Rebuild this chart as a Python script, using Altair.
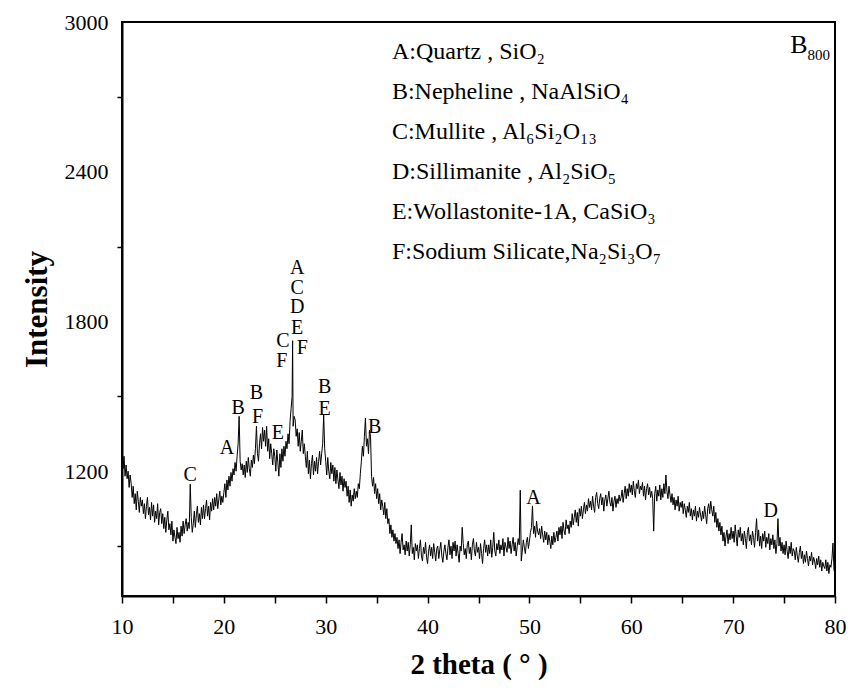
import altair as alt
import numpy as np
import pandas as pd

# ---- XRD scan: 2-theta grid at 0.1 deg, counts listed one row per degree ----
theta_start, theta_stop, theta_step = 10.0, 80.0, 0.1
counts_by_degree = [
    [1245, 1210, 1260, 1180, 1225, 1170, 1200, 1135, 1185, 1150],  # 10
    [1095, 1140, 1070, 1110, 1045, 1120, 1080, 1035, 1095, 1060],  # 11
    [1085, 1030, 1070, 1010, 1060, 1095, 1025, 1055, 1005, 1075],  # 12
    [1020, 1065, 995, 1040, 1010, 1070, 985, 1035, 1050, 990],     # 13
    [1030, 970, 1015, 955, 1005, 1040, 965, 990, 945, 1000],       # 14
    [920, 965, 935, 910, 975, 930, 955, 915, 980, 940],            # 15
    [1000, 950, 985, 1010, 960, 995, 970, 1148, 1015, 955],        # 16
    [990, 1040, 975, 1025, 1060, 995, 1030, 985, 1055, 1010],      # 17
    [1065, 1010, 1050, 1085, 1020, 1060, 1005, 1075, 1040, 1090],  # 18
    [1045, 1095, 1060, 1110, 1050, 1085, 1120, 1065, 1100, 1075],  # 19
    [1115, 1150, 1095, 1165, 1125, 1180, 1140, 1195, 1160, 1210],  # 20
    [1185, 1235, 1200, 1260, 1310, 1420, 1240, 1205, 1230, 1185],  # 21
    [1225, 1175, 1240, 1195, 1255, 1210, 1180, 1245, 1215, 1265],  # 22
    [1230, 1290, 1380, 1270, 1240, 1310, 1350, 1290, 1375, 1320],  # 23
    [1365, 1300, 1380, 1280, 1330, 1250, 1310, 1270, 1225, 1290],  # 24
    [1260, 1200, 1285, 1235, 1180, 1270, 1215, 1290, 1240, 1300],  # 25
    [1260, 1320, 1290, 1350, 1310, 1400, 1450, 1500, 1380, 1420],  # 26
    [1405, 1340, 1370, 1300, 1355, 1280, 1320, 1365, 1270, 1310],  # 27
    [1260, 1215, 1280, 1190, 1245, 1170, 1230, 1265, 1185, 1240],  # 28
    [1200, 1255, 1190, 1240, 1280, 1225, 1270, 1310, 1425, 1290],  # 29
    [1240, 1185, 1255, 1200, 1170, 1235, 1190, 1225, 1160, 1215],  # 30
    [1150, 1205, 1165, 1130, 1195, 1145, 1180, 1120, 1170, 1135],  # 31
    [1160, 1100, 1140, 1075, 1125, 1060, 1105, 1080, 1130, 1090],  # 32
    [1120, 1095, 1150, 1130, 1190, 1240, 1300, 1260, 1340, 1413],  # 33
    [1300, 1330, 1270, 1365, 1340, 1180, 1140, 1175, 1110, 1150],  # 34
    [1090, 1130, 1070, 1110, 1045, 1085, 1060, 1025, 1075, 1010],  # 35
    [1050, 990, 1010, 950, 985, 935, 965, 920, 950, 910],          # 36
    [935, 890, 925, 870, 915, 950, 885, 905, 865, 920],            # 37
    [880, 915, 860, 905, 985, 870, 895, 845, 910, 880],            # 38
    [905, 850, 890, 925, 860, 840, 895, 870, 915, 855],            # 39
    [830, 880, 905, 860, 895, 850, 910, 875, 840, 890],            # 40
    [900, 850, 885, 915, 860, 835, 880, 905, 870, 845],            # 41
    [895, 925, 865, 900, 850, 915, 880, 920, 860, 905],            # 42
    [870, 835, 900, 880, 975, 910, 865, 890, 850, 905],            # 43
    [920, 870, 895, 845, 905, 930, 880, 860, 915, 875],            # 44
    [895, 850, 910, 870, 830, 890, 925, 875, 905, 860],            # 45
    [905, 870, 925, 855, 895, 955, 880, 860, 910, 885],            # 46
    [925, 870, 905, 885, 930, 860, 915, 895, 875, 935],            # 47
    [890, 920, 870, 905, 935, 880, 915, 860, 900, 930],            # 48
    [905, 1124, 840, 880, 925, 895, 870, 915, 935, 890],           # 49
    [920, 955, 975, 1061, 950, 980, 935, 1000, 960, 945],          # 50
    [970, 930, 980, 945, 915, 960, 925, 955, 905, 945],            # 51
    [920, 890, 940, 905, 955, 915, 935, 960, 920, 975],            # 52
    [945, 980, 930, 995, 960, 945, 1005, 970, 985, 950],           # 53
    [1000, 975, 1030, 985, 1015, 1045, 995, 1035, 980, 1050],      # 54
    [1020, 1060, 1010, 1045, 1075, 1030, 1065, 1040, 1090, 1055],  # 55
    [1080, 1045, 1100, 1060, 1035, 1095, 1115, 1070, 1050, 1090],  # 56
    [1110, 1065, 1095, 1040, 1085, 1105, 1060, 1090, 1120, 1075],  # 57
    [1060, 1095, 1040, 1080, 1100, 1055, 1090, 1070, 1105, 1080],  # 58
    [1095, 1125, 1075, 1110, 1140, 1090, 1130, 1100, 1150, 1115],  # 59
    [1145, 1105, 1160, 1120, 1095, 1150, 1130, 1165, 1110, 1140],  # 60
    [1125, 1155, 1100, 1140, 1085, 1130, 1150, 1105, 1135, 1095],  # 61
    [1120, 1090, 960, 1110, 1140, 1080, 1125, 1100, 1145, 1085],   # 62
    [1130, 1095, 1150, 1110, 1185, 1120, 1090, 1140, 1105, 1075],  # 63
    [1110, 1065, 1095, 1045, 1085, 1060, 1100, 1040, 1075, 1055],  # 64
    [1080, 1030, 1070, 1045, 1015, 1060, 1035, 1075, 1020, 1050],  # 65
    [1005, 1045, 1020, 1060, 1000, 1040, 1015, 1055, 1025, 1000],  # 66
    [1040, 1010, 1060, 1025, 990, 1050, 1070, 1030, 1080, 1045],   # 67
    [1020, 1060, 995, 1035, 975, 1010, 960, 995, 945, 980],        # 68
    [920, 955, 900, 940, 965, 910, 950, 925, 975, 930],            # 69
    [960, 915, 985, 940, 900, 965, 935, 975, 920, 950],            # 70
    [905, 960, 930, 890, 955, 975, 920, 945, 905, 960],            # 71
    [935, 895, 955, 1010, 920, 965, 900, 940, 890, 950],           # 72
    [920, 960, 895, 935, 910, 950, 885, 930, 905, 945],            # 73
    [890, 925, 870, 910, 1010, 900, 935, 880, 915, 870],           # 74
    [905, 865, 920, 880, 850, 900, 870, 915, 860, 890],            # 75
    [880, 845, 895, 860, 835, 875, 900, 850, 880, 830],            # 76
    [865, 835, 880, 850, 820, 860, 840, 875, 825, 855],            # 77
    [840, 810, 850, 825, 860, 815, 845, 800, 835, 820],            # 78
    [810, 845, 800, 835, 790, 825, 815, 850, 912, 805],            # 79
]
counts_last = [790]  # 80

# strongest reflection, recorded between grid steps
peak_theta = [26.75]
peak_counts = [1723]

# phase letters marked above the reflections
label_text = ["C", "A", "B", "B", "F", "E", "C", "F", "F",
              "A", "C", "D", "E", "B", "E", "B", "A", "D"]
label_theta = [16.7, 20.3, 21.4, 23.2, 23.3, 25.3, 25.8, 25.7, 27.7,
               27.2, 27.2, 27.2, 27.2, 29.9, 29.9, 34.8, 50.4, 73.7]
label_counts = [1185, 1293, 1453, 1513, 1417, 1353, 1720, 1640, 1694,
                2014, 1934, 1858, 1774, 1537, 1449, 1377, 1093, 1041]

# phase key
key_lines = [
    "A:Quartz , SiO\u2082",
    "B:Nepheline , NaAlSiO\u2084",
    "C:Mullite , Al\u2086Si\u2082O\u2081\u2083",
    "D:Sillimanite , Al\u2082SiO\u2085",
    "E:Wollastonite-1A, CaSiO\u2083",
    "F:Sodium Silicate,Na\u2082Si\u2083O\u2087",
]
key_theta = 36.5
key_counts = [2880, 2720, 2560, 2400, 2240, 2080]

# sample name: letter and its subscript
name_text = ["B", "800"]
name_theta = [75.6, 77.3]
name_counts = [2908, 2868]
name_size = [26, 15]

# ---- assemble the scan ----
grid = np.round(np.arange(theta_start, theta_stop + theta_step / 2, theta_step), 2)
counts = [v for row in counts_by_degree for v in row] + counts_last
scan = pd.DataFrame({"theta": list(grid) + peak_theta,
                     "counts": counts + peak_counts})
scan = scan.sort_values("theta", kind="stable").reset_index(drop=True)

labels = pd.DataFrame({"theta": label_theta, "counts": label_counts, "txt": label_text})
key = pd.DataFrame({"theta": [key_theta] * len(key_lines), "counts": key_counts, "txt": key_lines})
name = pd.DataFrame({"theta": name_theta, "counts": name_counts, "txt": name_text, "size": name_size})

FONT = "Liberation Serif, Times New Roman, serif"
xscale = alt.Scale(domain=[10, 80], nice=False, zero=False)
yscale = alt.Scale(domain=[700, 3000], nice=False, zero=False)

xaxis = alt.Axis(title="2 theta ( \u00b0 )", values=list(range(10, 81, 5)),
                 labelExpr="datum.value % 10 == 0 ? datum.label : ''",
                 labelFlush=False,
                 tickSize=7, labelPadding=13, titlePadding=13,
                 labelFont=FONT, labelFontSize=22, labelColor="black",
                 titleFont=FONT, titleFontSize=29, titleFontWeight="bold", titleColor="black")
yaxis = alt.Axis(title="Intensity", values=list(range(900, 3001, 300)), format="d",
                 labelExpr="datum.value % 600 == 0 ? datum.label : ''",
                 labelFlush=False,
                 tickSize=5, labelPadding=9, titlePadding=11,
                 tickOpacity={"condition": {"test": "datum.value % 600 == 0", "value": 0},
                              "value": 1},
                 labelFont=FONT, labelFontSize=22, labelColor="black",
                 titleFont=FONT, titleFontSize=31, titleFontWeight="bold", titleColor="black")

x_enc = alt.X("theta:Q", scale=xscale, axis=xaxis)
y_enc = alt.Y("counts:Q", scale=yscale, axis=yaxis)

line = alt.Chart(scan).mark_line(color="black", strokeWidth=1).encode(x=x_enc, y=y_enc)

letters = alt.Chart(labels).mark_text(font=FONT, fontSize=20, color="black",
                                      align="center", baseline="middle").encode(
    x=x_enc, y=y_enc, text="txt:N")

key_text = alt.Chart(key).mark_text(font=FONT, fontSize=24, color="black",
                                    align="left", baseline="middle").encode(
    x=x_enc, y=y_enc, text="txt:N")

name_mark = alt.Chart(name).mark_text(font=FONT, color="black",
                                      align="left", baseline="middle").encode(
    x=x_enc, y=y_enc, text="txt:N",
    size=alt.Size("size:Q", scale=None, legend=None))

chart = alt.layer(line, letters, key_text, name_mark).properties(
    width=713, height=574,
    autosize=alt.AutoSizeParams(type="none"),
    padding={"left": 122, "top": 22, "right": 17, "bottom": 95},
    background="white",
).configure_view(
    stroke="black", strokeWidth=2,
).configure_axis(
    domainColor="black", domainWidth=2, tickColor="black", tickWidth=1.5, grid=False,
)

chart.save("out.html", embed_options={"renderer": "svg", "actions": False})
